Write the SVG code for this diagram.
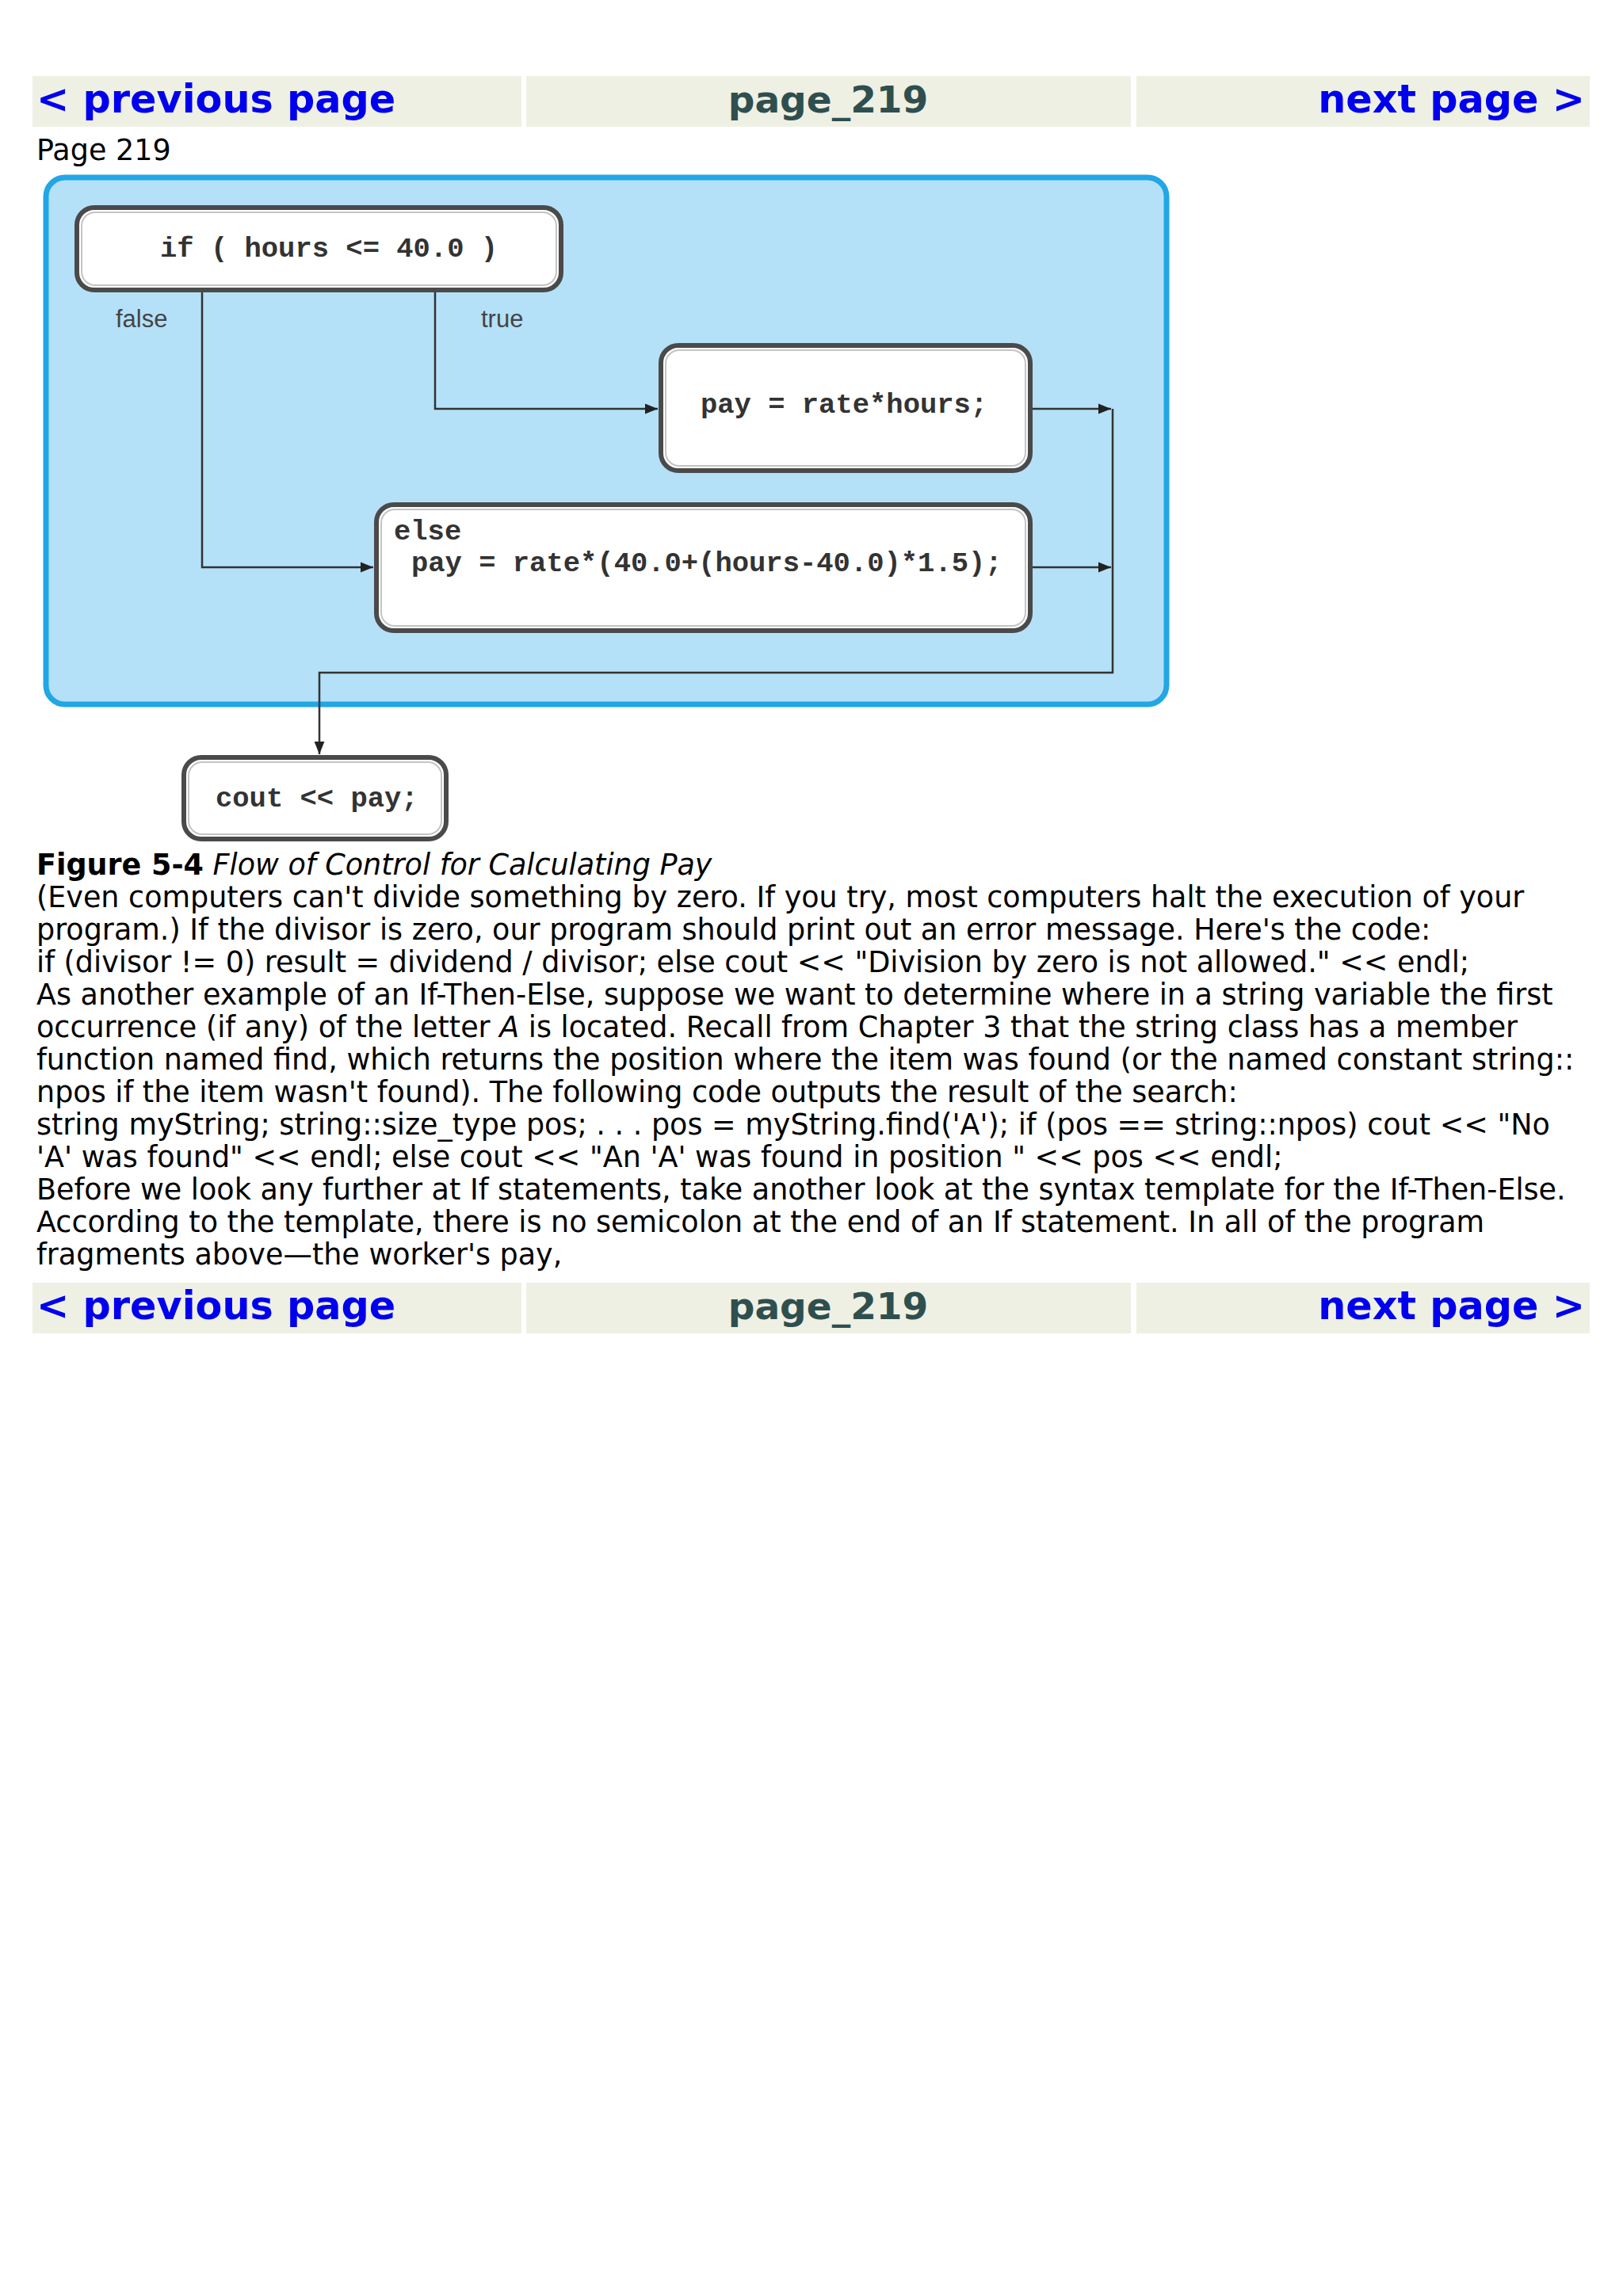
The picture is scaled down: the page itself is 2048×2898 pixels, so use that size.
<svg xmlns="http://www.w3.org/2000/svg" width="2048" height="2898" viewBox="0 0 2048 2898">
<style>
.nav{fill:#EEF0E3}
.navb{font-family:"DejaVu Sans",Verdana,sans-serif;font-weight:bold;font-size:49.3px;fill:#0000EE}
.navc{font-family:"DejaVu Sans",Verdana,sans-serif;font-weight:bold;font-size:47px;fill:#2F4F4F}
.body{font-family:"DejaVu Sans",Verdana,sans-serif;font-size:36.5px;fill:#000}
.box{fill:#fff;stroke:#4a4a4a;stroke-width:6}
.boxin{fill:none;stroke:#c4c4c4;stroke-width:2}
.code{font-family:"Liberation Mono","Courier New",monospace;font-weight:bold;font-size:35.5px;fill:#333}
.lbl{font-family:"Liberation Sans",Arial,sans-serif;font-size:31px;fill:#444}
.con{fill:none;stroke:#333;stroke-width:2.5}
</style>
<defs>
<marker id="ah" viewBox="0 0 10 10" refX="10" refY="5" markerWidth="16" markerHeight="16" markerUnits="userSpaceOnUse" orient="auto">
<path d="M0,1 L10,5 L0,9 Z" fill="#222"/>
</marker>
</defs>
<rect width="2048" height="2898" fill="#fff"/>

<g id="nav-top">
<rect class="nav" x="41" y="96" width="617" height="64"/>
<rect class="nav" x="664" y="96" width="763" height="64"/>
<rect class="nav" x="1434" y="96" width="572" height="64"/>
<text class="navb" x="46" y="142">&lt; previous page</text>
<text class="navc" x="1045" y="142" text-anchor="middle">page_219</text>
<text class="navb" x="2000" y="142" text-anchor="end">next page &gt;</text>
</g>

<text class="body" x="46" y="202">Page 219</text>

<g id="panel">
<rect x="58" y="224" width="1414" height="665" rx="24" fill="#B4E1F8" stroke="#22A6E6" stroke-width="7"/>
</g>

<g id="connectors">
<path class="con" d="M255,367 V716 H471" marker-end="url(#ah)"/>
<path class="con" d="M549,367 V516 H830" marker-end="url(#ah)"/>
<path class="con" d="M1300,516 H1402" marker-end="url(#ah)"/>
<path class="con" d="M1300,716 H1402" marker-end="url(#ah)"/>
<path class="con" d="M1404,516 V849 H403 V952" marker-end="url(#ah)"/>
<text class="lbl" x="146" y="413">false</text>
<text class="lbl" x="607" y="413">true</text>
</g>

<g id="node-if">
<rect class="box" x="97" y="262" width="611" height="104" rx="22"/>
<rect class="boxin" x="103" y="268" width="599" height="92" rx="17"/>
<text class="code" x="202" y="324">if ( hours &lt;= 40.0 )</text>
</g>

<g id="node-pay">
<rect class="box" x="834" y="436" width="466" height="158" rx="22"/>
<rect class="boxin" x="840" y="442" width="454" height="146" rx="17"/>
<text class="code" x="884" y="521">pay = rate*hours;</text>
</g>

<g id="node-else">
<rect class="box" x="475" y="637" width="825" height="159" rx="22"/>
<rect class="boxin" x="481" y="643" width="813" height="147" rx="17"/>
<text class="code" x="497" y="681">else</text>
<text class="code" x="519" y="721">pay = rate*(40.0+(hours-40.0)*1.5);</text>
</g>

<g id="node-cout">
<rect class="box" x="232" y="956" width="331" height="103" rx="22"/>
<rect class="boxin" x="238" y="962" width="319" height="91" rx="17"/>
<text class="code" x="272" y="1018">cout &lt;&lt; pay;</text>
</g>

<g id="text">
<text class="body" x="46" y="1104"><tspan font-weight="bold">Figure 5-4</tspan> <tspan font-style="italic">Flow of Control for Calculating Pay</tspan></text>
<text class="body" x="46" y="1145">(Even computers can't divide something by zero. If you try, most computers halt the execution of your</text>
<text class="body" x="46" y="1186">program.) If the divisor is zero, our program should print out an error message. Here's the code:</text>
<text class="body" x="46" y="1227">if (divisor != 0) result = dividend / divisor; else cout &lt;&lt; "Division by zero is not allowed." &lt;&lt; endl;</text>
<text class="body" x="46" y="1268">As another example of an If-Then-Else, suppose we want to determine where in a string variable the first</text>
<text class="body" x="46" y="1309">occurrence (if any) of the letter <tspan font-style="italic">A</tspan> is located. Recall from Chapter 3 that the string class has a member</text>
<text class="body" x="46" y="1350">function named find, which returns the position where the item was found (or the named constant string::</text>
<text class="body" x="46" y="1391">npos if the item wasn't found). The following code outputs the result of the search:</text>
<text class="body" x="46" y="1432">string myString; string::size_type pos; . . . pos = myString.find('A'); if (pos == string::npos) cout &lt;&lt; "No</text>
<text class="body" x="46" y="1473">'A' was found" &lt;&lt; endl; else cout &lt;&lt; "An 'A' was found in position " &lt;&lt; pos &lt;&lt; endl;</text>
<text class="body" x="46" y="1514">Before we look any further at If statements, take another look at the syntax template for the If-Then-Else.</text>
<text class="body" x="46" y="1555">According to the template, there is no semicolon at the end of an If statement. In all of the program</text>
<text class="body" x="46" y="1596">fragments above—the worker's pay,</text>
</g>

<g id="nav-bottom">
<rect class="nav" x="41" y="1619" width="617" height="64"/>
<rect class="nav" x="664" y="1619" width="763" height="64"/>
<rect class="nav" x="1434" y="1619" width="572" height="64"/>
<text class="navb" x="46" y="1665">&lt; previous page</text>
<text class="navc" x="1045" y="1665" text-anchor="middle">page_219</text>
<text class="navb" x="2000" y="1665" text-anchor="end">next page &gt;</text>
</g>
</svg>
